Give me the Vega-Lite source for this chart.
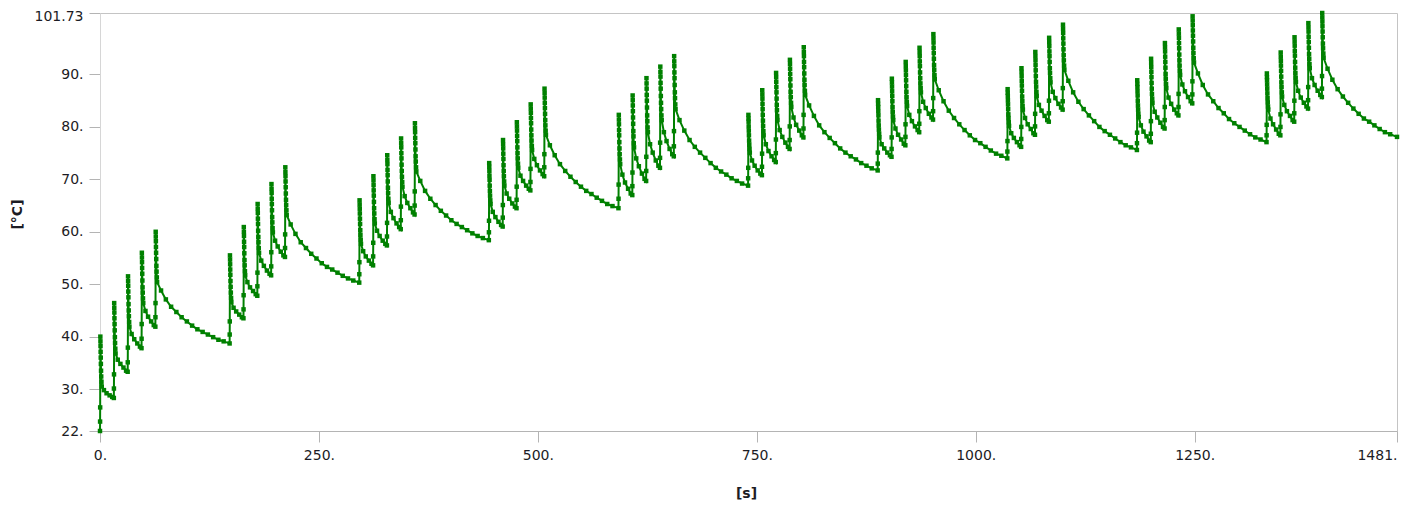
{
  "$schema": "https://vega.github.io/schema/vega-lite/v6.json",
  "autosize": {"type": "none"},
  "padding": {"left": 100, "top": 13, "right": 12, "bottom": 75},
  "width": 1297,
  "height": 418,
  "background": "#ffffff",
  "config": {
    "view": {"stroke": "#c4c4c4", "strokeWidth": 1},
    "font": "DejaVu Sans"
  },
  "data": {
    "values": [
      {"t":0,"v":22},{"t":0.1,"v":23.8},{"t":0.2,"v":26.5},{"t":0.4,"v":40},{"t":0.7,"v":37.1},{"t":1.0,"v":34.8},{"t":1.4,"v":32.4},{"t":2.0,"v":30.5},{"t":4.5,"v":29.8},{"t":7.5,"v":29.2},{"t":11,"v":28.8},{"t":14,"v":28.5},
      {"t":15.8,"v":28.3},{"t":15.9,"v":30.1},{"t":16.0,"v":32.8},{"t":16.2,"v":46.4},{"t":16.5,"v":43.5},{"t":16.8,"v":41.2},{"t":17.2,"v":38.8},{"t":17.8,"v":36.8},{"t":20.3,"v":35.6},{"t":23.3,"v":34.8},{"t":26.8,"v":34.1},{"t":29.8,"v":33.5},
      {"t":31.6,"v":33.3},{"t":31.7,"v":35.1},{"t":31.8,"v":37.9},{"t":32.0,"v":51.5},{"t":32.3,"v":48.6},{"t":32.6,"v":46.2},{"t":33.0,"v":43.9},{"t":33.6,"v":41.9},{"t":36.1,"v":40.5},{"t":39.1,"v":39.5},{"t":42.6,"v":38.7},{"t":45.6,"v":38.1},
      {"t":47.4,"v":37.8},{"t":47.5,"v":39.6},{"t":47.6,"v":42.4},{"t":47.8,"v":56},{"t":48.1,"v":53.1},{"t":48.4,"v":50.7},{"t":48.8,"v":48.4},{"t":49.4,"v":46.4},{"t":51.9,"v":44.9},{"t":54.9,"v":43.8},{"t":58.4,"v":42.9},{"t":61.4,"v":42.2},
      {"t":63.2,"v":41.9},{"t":63.3,"v":43.7},{"t":63.4,"v":46.4},{"t":63.6,"v":60},{"t":63.9,"v":57.1},{"t":64.2,"v":54.8},{"t":64.6,"v":52.4},{"t":65.2,"v":50.4},{"t":69.7,"v":48.8},{"t":75.2,"v":47.1},{"t":81.2,"v":45.7},{"t":87.2,"v":44.7},{"t":93.2,"v":43.7},{"t":99.2,"v":42.9},{"t":105.2,"v":42.1},{"t":111.2,"v":41.4},{"t":117.2,"v":40.9},{"t":123.2,"v":40.4},{"t":129.2,"v":39.9},{"t":135.2,"v":39.4},{"t":141.2,"v":39.1},

      {"t":148,"v":38.7},{"t":148.1,"v":40.4},{"t":148.2,"v":42.9},{"t":148.4,"v":55.5},{"t":148.7,"v":52.8},{"t":149.0,"v":50.6},{"t":149.4,"v":48.4},{"t":150.0,"v":46.6},{"t":152.5,"v":45.5},{"t":155.5,"v":44.8},{"t":159,"v":44.2},{"t":162,"v":43.7},
      {"t":163.8,"v":43.5},{"t":163.9,"v":45.2},{"t":164.0,"v":47.9},{"t":164.2,"v":60.9},{"t":164.5,"v":58.1},{"t":164.8,"v":55.9},{"t":165.2,"v":53.6},{"t":165.8,"v":51.7},{"t":168.3,"v":50.4},{"t":171.3,"v":49.4},{"t":174.8,"v":48.7},{"t":177.8,"v":48.1},
      {"t":179.6,"v":47.8},{"t":179.7,"v":49.6},{"t":179.8,"v":52.2},{"t":180.0,"v":65.3},{"t":180.3,"v":62.5},{"t":180.6,"v":60.2},{"t":181.0,"v":58.0},{"t":181.6,"v":56.0},{"t":184.1,"v":54.5},{"t":187.1,"v":53.5},{"t":190.6,"v":52.6},{"t":193.6,"v":52.0},
      {"t":195.4,"v":51.7},{"t":195.5,"v":53.4},{"t":195.6,"v":56.1},{"t":195.8,"v":69.1},{"t":196.1,"v":66.3},{"t":196.4,"v":64.1},{"t":196.8,"v":61.8},{"t":197.4,"v":59.9},{"t":199.9,"v":58.3},{"t":202.9,"v":57.2},{"t":206.4,"v":56.2},{"t":209.4,"v":55.5},
      {"t":211.2,"v":55.2},{"t":211.3,"v":56.9},{"t":211.4,"v":59.5},{"t":211.6,"v":72.3},{"t":211.9,"v":69.6},{"t":212.2,"v":67.3},{"t":212.6,"v":65.1},{"t":213.2,"v":63.2},{"t":217.7,"v":61.4},{"t":223.2,"v":59.6},{"t":229.2,"v":58.0},{"t":235.2,"v":56.9},{"t":241.2,"v":55.8},{"t":247.2,"v":54.9},{"t":253.2,"v":54.0},{"t":259.2,"v":53.3},{"t":265.2,"v":52.8},{"t":271.2,"v":52.2},{"t":277.2,"v":51.6},{"t":283.2,"v":51.1},{"t":289.2,"v":50.7},

      {"t":296,"v":50.3},{"t":296.1,"v":51.9},{"t":296.2,"v":54.2},{"t":296.4,"v":66},{"t":296.7,"v":63.5},{"t":297.0,"v":61.5},{"t":297.4,"v":59.4},{"t":298.0,"v":57.7},{"t":300.5,"v":56.3},{"t":303.5,"v":55.3},{"t":307,"v":54.5},{"t":310,"v":53.9},
      {"t":311.8,"v":53.6},{"t":311.9,"v":55.3},{"t":312.0,"v":57.9},{"t":312.2,"v":70.6},{"t":312.5,"v":67.9},{"t":312.8,"v":65.7},{"t":313.2,"v":63.5},{"t":313.8,"v":61.6},{"t":316.3,"v":60.2},{"t":319.3,"v":59.2},{"t":322.8,"v":58.3},{"t":325.8,"v":57.7},
      {"t":327.6,"v":57.4},{"t":327.7,"v":59.1},{"t":327.8,"v":61.7},{"t":328.0,"v":74.6},{"t":328.3,"v":71.8},{"t":328.6,"v":69.6},{"t":329.0,"v":67.4},{"t":329.6,"v":65.5},{"t":332.1,"v":63.8},{"t":335.1,"v":62.6},{"t":338.6,"v":61.6},{"t":341.6,"v":60.9},
      {"t":343.4,"v":60.5},{"t":343.5,"v":62.2},{"t":343.6,"v":64.8},{"t":343.8,"v":77.8},{"t":344.1,"v":75.0},{"t":344.4,"v":72.8},{"t":344.8,"v":70.5},{"t":345.4,"v":68.6},{"t":347.9,"v":66.8},{"t":350.9,"v":65.5},{"t":354.4,"v":64.5},{"t":357.4,"v":63.7},
      {"t":359.2,"v":63.3},{"t":359.3,"v":65.0},{"t":359.4,"v":67.7},{"t":359.6,"v":80.7},{"t":359.9,"v":77.9},{"t":360.2,"v":75.7},{"t":360.6,"v":73.4},{"t":361.2,"v":71.5},{"t":365.7,"v":69.7},{"t":371.2,"v":67.8},{"t":377.2,"v":66.3},{"t":383.2,"v":65.1},{"t":389.2,"v":64.0},{"t":395.2,"v":63.1},{"t":401.2,"v":62.2},{"t":407.2,"v":61.5},{"t":413.2,"v":60.9},{"t":419.2,"v":60.3},{"t":425.2,"v":59.7},{"t":431.2,"v":59.2},{"t":437.2,"v":58.8},

      {"t":444,"v":58.4},{"t":444.1,"v":59.9},{"t":444.2,"v":62.1},{"t":444.4,"v":73.1},{"t":444.7,"v":70.7},{"t":445.0,"v":68.8},{"t":445.4,"v":66.9},{"t":446.0,"v":65.3},{"t":448.5,"v":63.8},{"t":451.5,"v":62.8},{"t":455,"v":61.9},{"t":458,"v":61.3},
      {"t":459.8,"v":61},{"t":459.9,"v":62.7},{"t":460.0,"v":65.1},{"t":460.2,"v":77.5},{"t":460.5,"v":74.9},{"t":460.8,"v":72.7},{"t":461.2,"v":70.6},{"t":461.8,"v":68.8},{"t":464.3,"v":67.3},{"t":467.3,"v":66.3},{"t":470.8,"v":65.4},{"t":473.8,"v":64.8},
      {"t":475.6,"v":64.5},{"t":475.7,"v":66.1},{"t":475.8,"v":68.6},{"t":476.0,"v":80.9},{"t":476.3,"v":78.3},{"t":476.6,"v":76.1},{"t":477.0,"v":74.0},{"t":477.6,"v":72.2},{"t":480.1,"v":70.7},{"t":483.1,"v":69.7},{"t":486.6,"v":68.8},{"t":489.6,"v":68.2},
      {"t":491.4,"v":67.9},{"t":491.5,"v":69.5},{"t":491.6,"v":72.0},{"t":491.8,"v":84.3},{"t":492.1,"v":81.7},{"t":492.4,"v":79.5},{"t":492.8,"v":77.4},{"t":493.4,"v":75.6},{"t":495.9,"v":73.9},{"t":498.9,"v":72.7},{"t":502.4,"v":71.7},{"t":505.4,"v":71.0},
      {"t":507.2,"v":70.6},{"t":507.3,"v":72.3},{"t":507.4,"v":74.8},{"t":507.6,"v":87.3},{"t":507.9,"v":84.6},{"t":508.2,"v":82.5},{"t":508.6,"v":80.3},{"t":509.2,"v":78.5},{"t":513.7,"v":76.5},{"t":519.2,"v":74.6},{"t":525.2,"v":72.9},{"t":531.2,"v":71.6},{"t":537.2,"v":70.5},{"t":543.2,"v":69.5},{"t":549.2,"v":68.6},{"t":555.2,"v":67.8},{"t":561.2,"v":67.2},{"t":567.2,"v":66.5},{"t":573.2,"v":65.9},{"t":579.2,"v":65.3},{"t":585.2,"v":64.9},

      {"t":592,"v":64.5},{"t":592.1,"v":66.3},{"t":592.2,"v":69.0},{"t":592.4,"v":82.3},{"t":592.7,"v":79.4},{"t":593.0,"v":77.1},{"t":593.4,"v":74.8},{"t":594.0,"v":72.9},{"t":596.5,"v":70.9},{"t":599.5,"v":69.4},{"t":603,"v":68.2},{"t":606,"v":67.3},
      {"t":607.8,"v":67.0},{"t":607.9,"v":68.7},{"t":608.0,"v":71.3},{"t":608.2,"v":86},{"t":608.5,"v":83.0},{"t":608.8,"v":80.6},{"t":609.2,"v":78.2},{"t":609.8,"v":76.1},{"t":612.3,"v":74.0},{"t":615.3,"v":72.5},{"t":618.8,"v":71.1},{"t":621.8,"v":70.1},
      {"t":623.6,"v":69.7},{"t":623.7,"v":71.6},{"t":623.8,"v":74.3},{"t":624.0,"v":89.3},{"t":624.3,"v":86.1},{"t":624.6,"v":83.7},{"t":625.0,"v":81.1},{"t":625.6,"v":79.0},{"t":628.1,"v":76.7},{"t":631.1,"v":75.1},{"t":634.6,"v":73.6},{"t":637.6,"v":72.6},
      {"t":639.4,"v":72.2},{"t":639.5,"v":74.1},{"t":639.6,"v":77.0},{"t":639.8,"v":91.5},{"t":640.1,"v":88.4},{"t":640.4,"v":85.9},{"t":640.8,"v":83.4},{"t":641.4,"v":81.3},{"t":643.9,"v":79.0},{"t":646.9,"v":77.3},{"t":650.4,"v":75.8},{"t":653.4,"v":74.8},
      {"t":655.2,"v":74.4},{"t":655.3,"v":76.3},{"t":655.4,"v":79.2},{"t":655.6,"v":93.5},{"t":655.9,"v":90.4},{"t":656.2,"v":88.0},{"t":656.6,"v":85.5},{"t":657.2,"v":83.4},{"t":661.7,"v":81.3},{"t":667.2,"v":79.3},{"t":673.2,"v":77.5},{"t":679.2,"v":76.2},{"t":685.2,"v":75.1},{"t":691.2,"v":74.1},{"t":697.2,"v":73.1},{"t":703.2,"v":72.2},{"t":709.2,"v":71.5},{"t":715.2,"v":70.9},{"t":721.2,"v":70.2},{"t":727.2,"v":69.7},{"t":733.2,"v":69.2},

      {"t":740,"v":68.8},{"t":740.1,"v":70.2},{"t":740.2,"v":72.2},{"t":740.4,"v":82.3},{"t":740.7,"v":80.1},{"t":741.0,"v":78.4},{"t":741.4,"v":76.6},{"t":742.0,"v":75.1},{"t":744.5,"v":73.6},{"t":747.5,"v":72.6},{"t":751,"v":71.7},{"t":754,"v":71.1},
      {"t":755.8,"v":70.8},{"t":755.9,"v":72.4},{"t":756.0,"v":74.9},{"t":756.2,"v":87},{"t":756.5,"v":84.4},{"t":756.8,"v":82.3},{"t":757.2,"v":80.2},{"t":757.8,"v":78.4},{"t":760.3,"v":76.7},{"t":763.3,"v":75.4},{"t":766.8,"v":74.4},{"t":769.8,"v":73.7},
      {"t":771.6,"v":73.3},{"t":771.7,"v":75.0},{"t":771.8,"v":77.6},{"t":772.0,"v":90.3},{"t":772.3,"v":87.6},{"t":772.6,"v":85.4},{"t":773.0,"v":83.2},{"t":773.6,"v":81.3},{"t":776.1,"v":79.4},{"t":779.1,"v":78.1},{"t":782.6,"v":77.0},{"t":785.6,"v":76.2},
      {"t":787.4,"v":75.8},{"t":787.5,"v":77.5},{"t":787.6,"v":80.1},{"t":787.8,"v":92.8},{"t":788.1,"v":90.1},{"t":788.4,"v":87.9},{"t":788.8,"v":85.7},{"t":789.4,"v":83.8},{"t":791.9,"v":81.8},{"t":794.9,"v":80.4},{"t":798.4,"v":79.3},{"t":801.4,"v":78.4},
      {"t":803.2,"v":78},{"t":803.3,"v":79.7},{"t":803.4,"v":82.3},{"t":803.6,"v":95.2},{"t":803.9,"v":92.4},{"t":804.2,"v":90.2},{"t":804.6,"v":88.0},{"t":805.2,"v":86.1},{"t":809.7,"v":84.1},{"t":815.2,"v":82.1},{"t":821.2,"v":80.3},{"t":827.2,"v":79.0},{"t":833.2,"v":77.9},{"t":839.2,"v":76.9},{"t":845.2,"v":75.9},{"t":851.2,"v":75.1},{"t":857.2,"v":74.4},{"t":863.2,"v":73.8},{"t":869.2,"v":73.1},{"t":875.2,"v":72.6},{"t":881.2,"v":72.1},

      {"t":888,"v":71.7},{"t":888.1,"v":73.0},{"t":888.2,"v":75.1},{"t":888.4,"v":85.1},{"t":888.7,"v":83.0},{"t":889.0,"v":81.2},{"t":889.4,"v":79.5},{"t":890.0,"v":78.0},{"t":892.5,"v":76.7},{"t":895.5,"v":75.9},{"t":899,"v":75.1},{"t":902,"v":74.6},
      {"t":903.8,"v":74.3},{"t":903.9,"v":75.8},{"t":904.0,"v":78.0},{"t":904.2,"v":89.2},{"t":904.5,"v":86.8},{"t":904.8,"v":84.9},{"t":905.2,"v":82.9},{"t":905.8,"v":81.3},{"t":908.3,"v":79.7},{"t":911.3,"v":78.5},{"t":914.8,"v":77.6},{"t":917.8,"v":76.8},
      {"t":919.6,"v":76.5},{"t":919.7,"v":78.1},{"t":919.8,"v":80.5},{"t":920.0,"v":92.4},{"t":920.3,"v":89.9},{"t":920.6,"v":87.8},{"t":921.0,"v":85.7},{"t":921.6,"v":84.0},{"t":924.1,"v":82.3},{"t":927.1,"v":81.1},{"t":930.6,"v":80.1},{"t":933.6,"v":79.4},
      {"t":935.4,"v":79},{"t":935.5,"v":80.6},{"t":935.6,"v":83.0},{"t":935.8,"v":95.1},{"t":936.1,"v":92.5},{"t":936.4,"v":90.4},{"t":936.8,"v":88.3},{"t":937.4,"v":86.6},{"t":939.9,"v":84.8},{"t":942.9,"v":83.6},{"t":946.4,"v":82.5},{"t":949.4,"v":81.8},
      {"t":951.2,"v":81.4},{"t":951.3,"v":83.0},{"t":951.4,"v":85.5},{"t":951.6,"v":97.7},{"t":951.9,"v":95.1},{"t":952.2,"v":93.0},{"t":952.6,"v":90.9},{"t":953.2,"v":89.1},{"t":957.7,"v":87.0},{"t":963.2,"v":84.9},{"t":969.2,"v":83.1},{"t":975.2,"v":81.7},{"t":981.2,"v":80.5},{"t":987.2,"v":79.4},{"t":993.2,"v":78.4},{"t":999.2,"v":77.5},{"t":1005.2,"v":76.9},{"t":1011.2,"v":76.2},{"t":1017.2,"v":75.5},{"t":1023.2,"v":74.9},{"t":1029.2,"v":74.5},

      {"t":1036,"v":74},{"t":1036.1,"v":75.3},{"t":1036.2,"v":77.3},{"t":1036.4,"v":87.2},{"t":1036.7,"v":85.1},{"t":1037.0,"v":83.4},{"t":1037.4,"v":81.7},{"t":1038.0,"v":80.2},{"t":1040.5,"v":78.8},{"t":1043.5,"v":77.9},{"t":1047,"v":77.1},{"t":1050,"v":76.5},
      {"t":1051.8,"v":76.2},{"t":1051.9,"v":77.7},{"t":1052.0,"v":80.0},{"t":1052.2,"v":91.2},{"t":1052.5,"v":88.8},{"t":1052.8,"v":86.9},{"t":1053.2,"v":84.9},{"t":1053.8,"v":83.3},{"t":1056.3,"v":81.7},{"t":1059.3,"v":80.5},{"t":1062.8,"v":79.6},{"t":1065.8,"v":78.8},
      {"t":1067.6,"v":78.5},{"t":1067.7,"v":80.1},{"t":1067.8,"v":82.5},{"t":1068.0,"v":94.3},{"t":1068.3,"v":91.8},{"t":1068.6,"v":89.7},{"t":1069.0,"v":87.7},{"t":1069.6,"v":85.9},{"t":1072.1,"v":84.2},{"t":1075.1,"v":83.1},{"t":1078.6,"v":82.1},{"t":1081.6,"v":81.3},
      {"t":1083.4,"v":81},{"t":1083.5,"v":82.6},{"t":1083.6,"v":85.0},{"t":1083.8,"v":97},{"t":1084.1,"v":94.4},{"t":1084.4,"v":92.4},{"t":1084.8,"v":90.3},{"t":1085.4,"v":88.5},{"t":1087.9,"v":86.7},{"t":1090.9,"v":85.5},{"t":1094.4,"v":84.4},{"t":1097.4,"v":83.7},
      {"t":1099.2,"v":83.3},{"t":1099.3,"v":84.9},{"t":1099.4,"v":87.4},{"t":1099.6,"v":99.5},{"t":1099.9,"v":96.9},{"t":1100.2,"v":94.8},{"t":1100.6,"v":92.7},{"t":1101.2,"v":90.9},{"t":1105.7,"v":88.8},{"t":1111.2,"v":86.6},{"t":1117.2,"v":84.8},{"t":1123.2,"v":83.4},{"t":1129.2,"v":82.2},{"t":1135.2,"v":81.1},{"t":1141.2,"v":80.0},{"t":1147.2,"v":79.2},{"t":1153.2,"v":78.5},{"t":1159.2,"v":77.8},{"t":1165.2,"v":77.1},{"t":1171.2,"v":76.5},{"t":1177.2,"v":76.1},

      {"t":1184,"v":75.6},{"t":1184.1,"v":76.9},{"t":1184.2,"v":78.9},{"t":1184.4,"v":88.9},{"t":1184.7,"v":86.8},{"t":1185.0,"v":85.0},{"t":1185.4,"v":83.3},{"t":1186.0,"v":81.9},{"t":1188.5,"v":80.3},{"t":1191.5,"v":79.1},{"t":1195,"v":78.2},{"t":1198,"v":77.4},
      {"t":1199.8,"v":77.1},{"t":1199.9,"v":78.7},{"t":1200.0,"v":81.1},{"t":1200.2,"v":93},{"t":1200.5,"v":90.5},{"t":1200.8,"v":88.4},{"t":1201.2,"v":86.3},{"t":1201.8,"v":84.6},{"t":1204.3,"v":82.9},{"t":1207.3,"v":81.8},{"t":1210.8,"v":80.8},{"t":1213.8,"v":80.0},
      {"t":1215.6,"v":79.7},{"t":1215.7,"v":81.3},{"t":1215.8,"v":83.8},{"t":1216.0,"v":96},{"t":1216.3,"v":93.4},{"t":1216.6,"v":91.3},{"t":1217.0,"v":89.2},{"t":1217.6,"v":87.4},{"t":1220.1,"v":85.6},{"t":1223.1,"v":84.4},{"t":1226.6,"v":83.3},{"t":1229.6,"v":82.6},
      {"t":1231.4,"v":82.2},{"t":1231.5,"v":83.8},{"t":1231.6,"v":86.3},{"t":1231.8,"v":98.6},{"t":1232.1,"v":96.0},{"t":1232.4,"v":93.8},{"t":1232.8,"v":91.7},{"t":1233.4,"v":89.9},{"t":1235.9,"v":88.1},{"t":1238.9,"v":86.8},{"t":1242.4,"v":85.7},{"t":1245.4,"v":84.9},
      {"t":1247.2,"v":84.5},{"t":1247.3,"v":86.2},{"t":1247.4,"v":88.7},{"t":1247.6,"v":101.1},{"t":1247.9,"v":98.4},{"t":1248.2,"v":96.3},{"t":1248.6,"v":94.1},{"t":1249.2,"v":92.3},{"t":1253.7,"v":90.2},{"t":1259.2,"v":88.0},{"t":1265.2,"v":86.2},{"t":1271.2,"v":84.9},{"t":1277.2,"v":83.6},{"t":1283.2,"v":82.6},{"t":1289.2,"v":81.5},{"t":1295.2,"v":80.7},{"t":1301.2,"v":80.0},{"t":1307.2,"v":79.3},{"t":1313.2,"v":78.6},{"t":1319.2,"v":78.0},{"t":1325.2,"v":77.6},

      {"t":1332,"v":77.1},{"t":1332.1,"v":78.4},{"t":1332.2,"v":80.4},{"t":1332.4,"v":90.2},{"t":1332.7,"v":88.1},{"t":1333.0,"v":86.4},{"t":1333.4,"v":84.7},{"t":1334.0,"v":83.3},{"t":1336.5,"v":81.6},{"t":1339.5,"v":80.5},{"t":1343,"v":79.5},{"t":1346,"v":78.7},
      {"t":1347.8,"v":78.4},{"t":1347.9,"v":80.0},{"t":1348.0,"v":82.4},{"t":1348.2,"v":94.2},{"t":1348.5,"v":91.7},{"t":1348.8,"v":89.6},{"t":1349.2,"v":87.6},{"t":1349.8,"v":85.8},{"t":1352.3,"v":84.2},{"t":1355.3,"v":83.0},{"t":1358.8,"v":82.1},{"t":1361.8,"v":81.3},
      {"t":1363.6,"v":81},{"t":1363.7,"v":82.6},{"t":1363.8,"v":85.0},{"t":1364.0,"v":97.1},{"t":1364.3,"v":94.5},{"t":1364.6,"v":92.4},{"t":1365.0,"v":90.3},{"t":1365.6,"v":88.6},{"t":1368.1,"v":86.9},{"t":1371.1,"v":85.6},{"t":1374.6,"v":84.6},{"t":1377.6,"v":83.9},
      {"t":1379.4,"v":83.5},{"t":1379.5,"v":85.1},{"t":1379.6,"v":87.6},{"t":1379.8,"v":99.8},{"t":1380.1,"v":97.2},{"t":1380.4,"v":95.1},{"t":1380.8,"v":93.0},{"t":1381.4,"v":91.2},{"t":1383.9,"v":89.3},{"t":1386.9,"v":88.0},{"t":1390.4,"v":86.9},{"t":1393.4,"v":86.1},
      {"t":1395.2,"v":85.7},{"t":1395.3,"v":87.3},{"t":1395.4,"v":89.7},{"t":1395.6,"v":101.73},{"t":1395.9,"v":99.2},{"t":1396.2,"v":97.1},{"t":1396.6,"v":95.0},{"t":1397.2,"v":93.2},{"t":1401.7,"v":91.1},{"t":1407.2,"v":89.0},{"t":1413.2,"v":87.2},{"t":1419.2,"v":85.8},{"t":1425.2,"v":84.6},{"t":1431.2,"v":83.5},{"t":1437.2,"v":82.5},{"t":1443.2,"v":81.6},{"t":1449.2,"v":81.0},{"t":1455.2,"v":80.3},{"t":1461.2,"v":79.6},{"t":1467.2,"v":79.0},{"t":1473.2,"v":78.6},{"t":1481,"v":78.1},

      {"t":0.5,"v":39.1},{"t":0.6,"v":38.2},{"t":0.85,"v":36.0},{"t":1.2,"v":33.5},{"t":1.7,"v":31.4},
      {"t":16.3,"v":45.5},{"t":16.4,"v":44.6},{"t":16.65,"v":42.4},{"t":17.0,"v":39.9},{"t":17.5,"v":37.7},
      {"t":32.1,"v":50.6},{"t":32.2,"v":49.7},{"t":32.45,"v":47.5},{"t":32.8,"v":45.0},{"t":33.3,"v":42.8},
      {"t":47.9,"v":55.1},{"t":48.0,"v":54.2},{"t":48.25,"v":52.0},{"t":48.6,"v":49.4},{"t":49.1,"v":47.3},
      {"t":63.7,"v":59.1},{"t":63.8,"v":58.2},{"t":64.05,"v":56.0},{"t":64.4,"v":53.5},{"t":64.9,"v":51.3},
      {"t":148.5,"v":54.7},{"t":148.6,"v":53.8},{"t":148.85,"v":51.8},{"t":149.2,"v":49.5},{"t":149.7,"v":47.4},
      {"t":164.3,"v":60.0},{"t":164.4,"v":59.2},{"t":164.65,"v":57.1},{"t":165.0,"v":54.6},{"t":165.5,"v":52.5},
      {"t":180.1,"v":64.4},{"t":180.2,"v":63.6},{"t":180.45,"v":61.5},{"t":180.8,"v":59.0},{"t":181.3,"v":56.9},
      {"t":195.9,"v":68.2},{"t":196.0,"v":67.4},{"t":196.25,"v":65.3},{"t":196.6,"v":62.8},{"t":197.1,"v":60.7},
      {"t":211.7,"v":71.4},{"t":211.8,"v":70.6},{"t":212.05,"v":68.5},{"t":212.4,"v":66.1},{"t":212.9,"v":64.1},
      {"t":296.5,"v":65.2},{"t":296.6,"v":64.4},{"t":296.85,"v":62.5},{"t":297.2,"v":60.3},{"t":297.7,"v":58.5},
      {"t":312.3,"v":69.8},{"t":312.4,"v":68.9},{"t":312.65,"v":66.9},{"t":313.0,"v":64.5},{"t":313.5,"v":62.4},
      {"t":328.1,"v":73.7},{"t":328.2,"v":72.9},{"t":328.45,"v":70.8},{"t":328.8,"v":68.4},{"t":329.3,"v":66.3},
      {"t":343.9,"v":76.9},{"t":344.0,"v":76.1},{"t":344.25,"v":74.0},{"t":344.6,"v":71.6},{"t":345.1,"v":69.5},
      {"t":359.7,"v":79.8},{"t":359.8,"v":79.0},{"t":360.05,"v":76.9},{"t":360.4,"v":74.4},{"t":360.9,"v":72.3},
      {"t":444.5,"v":72.4},{"t":444.6,"v":71.6},{"t":444.85,"v":69.9},{"t":445.2,"v":67.8},{"t":445.7,"v":66.0},
      {"t":460.3,"v":76.7},{"t":460.4,"v":75.9},{"t":460.65,"v":73.9},{"t":461.0,"v":71.6},{"t":461.5,"v":69.6},
      {"t":476.1,"v":80.1},{"t":476.2,"v":79.3},{"t":476.45,"v":77.3},{"t":476.8,"v":75.0},{"t":477.3,"v":73.0},
      {"t":491.9,"v":83.5},{"t":492.0,"v":82.7},{"t":492.25,"v":80.7},{"t":492.6,"v":78.4},{"t":493.1,"v":76.4},
      {"t":507.7,"v":86.5},{"t":507.8,"v":85.6},{"t":508.05,"v":83.6},{"t":508.4,"v":81.3},{"t":508.9,"v":79.3},
      {"t":592.5,"v":81.4},{"t":592.6,"v":80.5},{"t":592.85,"v":78.4},{"t":593.2,"v":75.9},{"t":593.7,"v":73.8},
      {"t":608.3,"v":85.1},{"t":608.4,"v":84.1},{"t":608.65,"v":81.8},{"t":609.0,"v":79.2},{"t":609.5,"v":76.9},
      {"t":624.1,"v":88.3},{"t":624.2,"v":87.3},{"t":624.45,"v":85.0},{"t":624.8,"v":82.2},{"t":625.3,"v":79.9},
      {"t":639.9,"v":90.5},{"t":640.0,"v":89.6},{"t":640.25,"v":87.3},{"t":640.6,"v":84.6},{"t":641.1,"v":82.2},
      {"t":655.7,"v":92.5},{"t":655.8,"v":91.6},{"t":656.05,"v":89.3},{"t":656.4,"v":86.6},{"t":656.9,"v":84.3},
      {"t":740.5,"v":81.6},{"t":740.6,"v":81.0},{"t":740.85,"v":79.3},{"t":741.2,"v":77.4},{"t":741.7,"v":75.8},
      {"t":756.3,"v":86.2},{"t":756.4,"v":85.4},{"t":756.65,"v":83.4},{"t":757.0,"v":81.2},{"t":757.5,"v":79.2},
      {"t":772.1,"v":89.5},{"t":772.2,"v":88.6},{"t":772.45,"v":86.6},{"t":772.8,"v":84.2},{"t":773.3,"v":82.1},
      {"t":787.9,"v":92.0},{"t":788.0,"v":91.1},{"t":788.25,"v":89.1},{"t":788.6,"v":86.7},{"t":789.1,"v":84.6},
      {"t":803.7,"v":94.3},{"t":803.8,"v":93.5},{"t":804.05,"v":91.4},{"t":804.4,"v":89.0},{"t":804.9,"v":86.9},
      {"t":888.5,"v":84.4},{"t":888.6,"v":83.8},{"t":888.85,"v":82.2},{"t":889.2,"v":80.3},{"t":889.7,"v":78.7},
      {"t":904.3,"v":88.5},{"t":904.4,"v":87.7},{"t":904.65,"v":85.9},{"t":905.0,"v":83.8},{"t":905.5,"v":82.0},
      {"t":920.1,"v":91.6},{"t":920.2,"v":90.8},{"t":920.45,"v":88.9},{"t":920.8,"v":86.7},{"t":921.3,"v":84.8},
      {"t":935.9,"v":94.3},{"t":936.0,"v":93.5},{"t":936.25,"v":91.6},{"t":936.6,"v":89.3},{"t":937.1,"v":87.4},
      {"t":951.7,"v":96.9},{"t":951.8,"v":96.1},{"t":952.05,"v":94.1},{"t":952.4,"v":91.8},{"t":952.9,"v":89.9},
      {"t":1036.5,"v":86.5},{"t":1036.6,"v":85.9},{"t":1036.85,"v":84.3},{"t":1037.2,"v":82.4},{"t":1037.7,"v":80.9},
      {"t":1052.3,"v":90.5},{"t":1052.4,"v":89.7},{"t":1052.65,"v":87.9},{"t":1053.0,"v":85.8},{"t":1053.5,"v":84.0},
      {"t":1068.1,"v":93.5},{"t":1068.2,"v":92.7},{"t":1068.45,"v":90.8},{"t":1068.8,"v":88.6},{"t":1069.3,"v":86.7},
      {"t":1083.9,"v":96.2},{"t":1084.0,"v":95.4},{"t":1084.25,"v":93.5},{"t":1084.6,"v":91.2},{"t":1085.1,"v":89.3},
      {"t":1099.7,"v":98.7},{"t":1099.8,"v":97.9},{"t":1100.05,"v":95.9},{"t":1100.4,"v":93.7},{"t":1100.9,"v":91.7},
      {"t":1184.5,"v":88.2},{"t":1184.6,"v":87.6},{"t":1184.85,"v":86.0},{"t":1185.2,"v":84.1},{"t":1185.7,"v":82.5},
      {"t":1200.3,"v":92.2},{"t":1200.4,"v":91.4},{"t":1200.65,"v":89.5},{"t":1201.0,"v":87.3},{"t":1201.5,"v":85.4},
      {"t":1216.1,"v":95.2},{"t":1216.2,"v":94.4},{"t":1216.45,"v":92.4},{"t":1216.8,"v":90.1},{"t":1217.3,"v":88.2},
      {"t":1231.9,"v":97.8},{"t":1232.0,"v":97.0},{"t":1232.25,"v":95.0},{"t":1232.6,"v":92.7},{"t":1233.1,"v":90.7},
      {"t":1247.7,"v":100.3},{"t":1247.8,"v":99.4},{"t":1248.05,"v":97.4},{"t":1248.4,"v":95.1},{"t":1248.9,"v":93.1},
      {"t":1332.5,"v":89.5},{"t":1332.6,"v":88.9},{"t":1332.85,"v":87.3},{"t":1333.2,"v":85.5},{"t":1333.7,"v":83.9},
      {"t":1348.3,"v":93.4},{"t":1348.4,"v":92.6},{"t":1348.65,"v":90.7},{"t":1349.0,"v":88.5},{"t":1349.5,"v":86.6},
      {"t":1364.1,"v":96.3},{"t":1364.2,"v":95.5},{"t":1364.45,"v":93.6},{"t":1364.8,"v":91.3},{"t":1365.3,"v":89.4},
      {"t":1379.9,"v":99.0},{"t":1380.0,"v":98.2},{"t":1380.25,"v":96.2},{"t":1380.6,"v":93.9},{"t":1381.1,"v":92.0},
      {"t":1395.7,"v":100.9},{"t":1395.8,"v":100.1},{"t":1396.05,"v":98.2},{"t":1396.4,"v":95.9},{"t":1396.9,"v":94.0}
    ]
  },
  "encoding": {
    "x": {
      "field": "t",
      "type": "quantitative",
      "scale": {"domain": [0, 1481], "nice": false, "zero": false},
      "axis": {
        "title": "[s]",
        "values": [0, 250, 500, 750, 1000, 1250, 1481],
        "labelExpr": "datum.value + '.'",
        "labelAlign": {"condition": {"test": "datum.value == 1481", "value": "right"}, "value": "center"},
        "labelFont": "DejaVu Sans",
        "labelFontSize": 14,
        "labelColor": "#1c1c24",
        "labelPadding": 6,
        "tickSize": 11,
        "tickColor": "#b4b4b4",
        "domainColor": "#b4b4b4",
        "grid": false,
        "titleFont": "DejaVu Sans",
        "titleFontSize": 14,
        "titleFontWeight": "bold",
        "titleColor": "#1c1c24",
        "titleX": 646,
        "titleY": 62,
        "titleBaseline": "middle",
        "titleAlign": "center"
      }
    },
    "y": {
      "field": "v",
      "type": "quantitative",
      "scale": {"domain": [22, 101.73], "nice": false, "zero": false},
      "axis": {
        "title": "[°C]",
        "values": [22, 30, 40, 50, 60, 70, 80, 90, 101.73],
        "labelExpr": "datum.value == 101.73 ? '101.73' : datum.value + '.'",
        "labelOffset": {"condition": {"test": "datum.value == 101.73", "value": 3}, "value": 0},
        "labelFont": "DejaVu Sans",
        "labelFontSize": 14,
        "labelColor": "#1c1c24",
        "labelPadding": 6,
        "tickSize": 11,
        "tickColor": "#b4b4b4",
        "domainColor": "#d6d6d6",
        "grid": false,
        "titleFont": "DejaVu Sans",
        "titleFontSize": 14,
        "titleFontWeight": "bold",
        "titleColor": "#1c1c24",
        "titleAngle": -90,
        "titleX": -83,
        "titleY": 201,
        "titleBaseline": "middle",
        "titleAlign": "center"
      }
    }
  },
  "layer": [
    {
      "mark": {"type": "line", "color": "#008000", "strokeWidth": 2, "interpolate": "linear"},
      "encoding": {"order": {"field": "t", "type": "quantitative"}}
    },
    {
      "mark": {"type": "point", "shape": "square", "filled": true, "size": 20, "color": "#008000", "opacity": 1}
    }
  ]
}
